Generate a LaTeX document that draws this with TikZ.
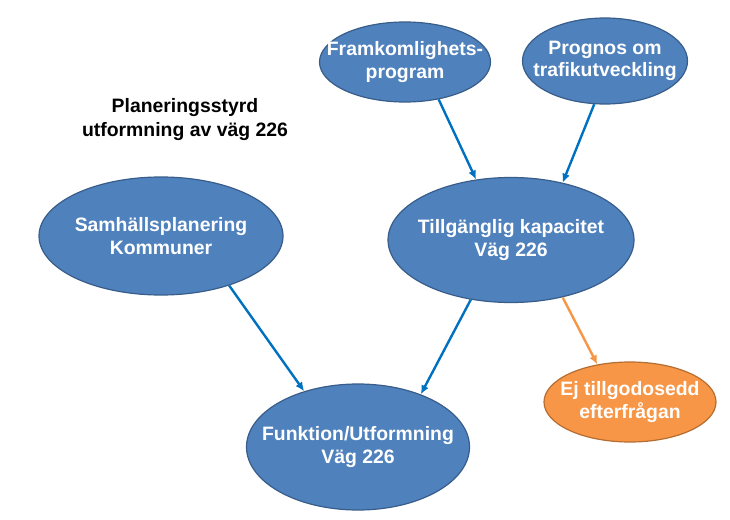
\documentclass[tikz,border=0pt]{standalone}
\usepackage{fontspec}
\setmainfont{Liberation Sans}
\usetikzlibrary{shapes.geometric, arrows.meta, positioning}

\definecolor{blueFill}{HTML}{4F81BD}
\definecolor{blueLine}{HTML}{385D8A}
\definecolor{arrBlue}{HTML}{0070C0}
\definecolor{orangeFill}{HTML}{F79646}
\definecolor{orangeLine}{HTML}{B66D31}

\begin{document}
\begin{tikzpicture}[
        x=1pt, y=-1pt,
        bub/.style={ellipse, draw=blueLine, line width=1.2pt, fill=blueFill, text=white, align=center,
            font=\fontsize{19.4}{22.5}\selectfont\bfseries, inner xsep=-20pt, inner ysep=-10pt},
        warn/.style={bub, draw=orangeLine, fill=orangeFill},
        arr/.style={-{Latex[length=9pt, width=8pt]}, line width=2.4pt, draw=arrBlue},
        arrwarn/.style={arr, draw=orangeFill}
    ]
    \useasboundingbox (0,0) rectangle (730,519);

    \node[bub, minimum width=171pt, minimum height=80pt] (fram) at (405,62) {Framkomlighets-\\program};
    \node[bub, minimum width=165pt, minimum height=86pt] (prog) at (605,61) {Prognos om\\trafikutveckling};
    \node[align=center, font=\fontsize{19.4}{24}\selectfont\bfseries] (title) at (185,120) {Planeringsstyrd\\utformning av väg 226};
    \node[bub, minimum width=244pt, minimum height=118pt] (sam) at (161,236) {Samhällsplanering\\Kommuner};
    \node[bub, minimum width=246pt, minimum height=125pt] (kap) at (511,240) {Tillgänglig kapacitet\\Väg 226};
    \node[bub, minimum width=223pt, minimum height=126pt] (funk) at (358,447) {Funktion/Utformning\\Väg 226};
    \node[warn, minimum width=172pt, minimum height=80pt] (ej) at (630,402) {Ej tillgodosedd\\efterfrågan};

    \draw[arr] (fram.-48) -- (kap.120);
    \draw[arr] (prog.-104) -- (kap.48);
    \draw[arr] (sam.-36) -- (funk.134);
    \draw[arr] (kap.-124) -- (funk.40);
    \draw[arrwarn] (kap.-48) -- (ej.131);

\end{tikzpicture}
\end{document}
